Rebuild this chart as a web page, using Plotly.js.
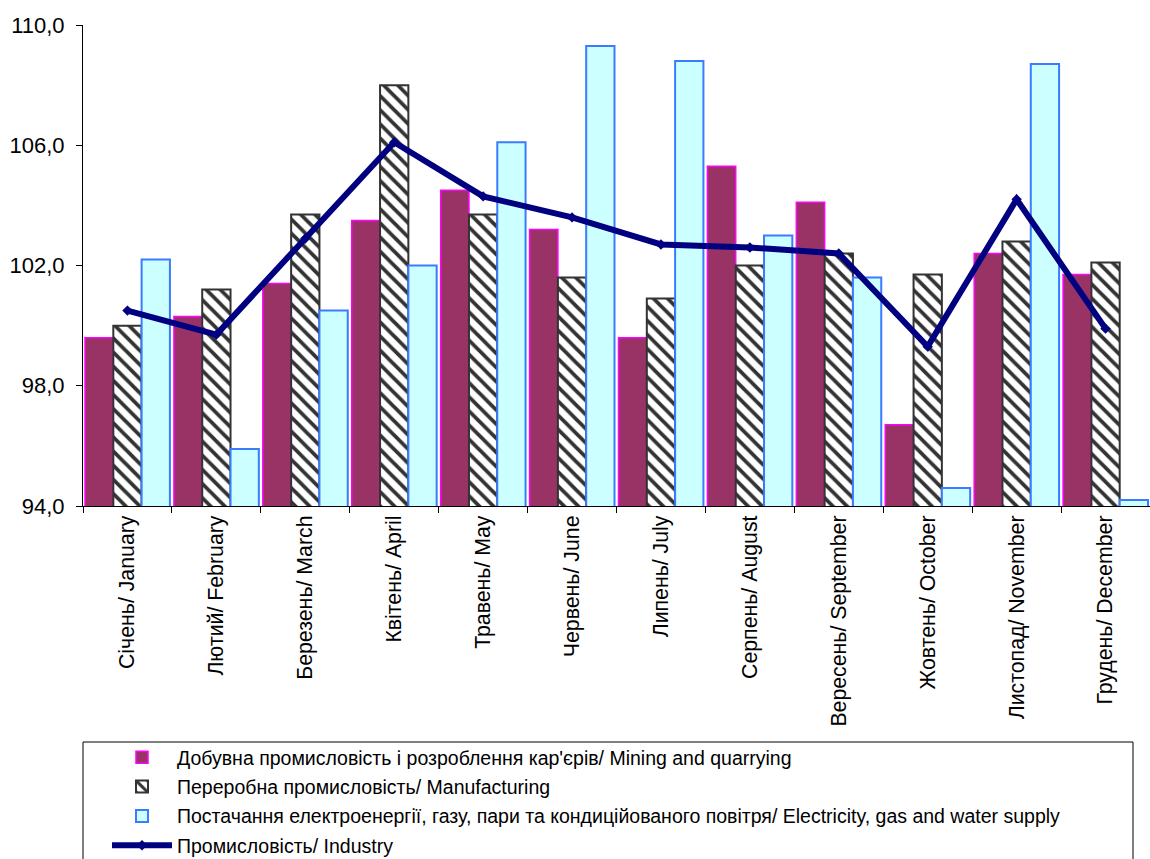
<!DOCTYPE html>
<html>
<head>
<meta charset="utf-8">
<script src="https://cdn.plot.ly/plotly-3.0.1.min.js"></script>
<style>html,body{margin:0;padding:0;background:#fff;}#chart{width:1150px;height:859px;}</style>
</head>
<body>
<div id="chart"></div>
<script>
const months = ["Січень/ January","Лютий/ February","Березень/ March","Квітень/ April","Травень/ May","Червень/ June","Липень/ July","Серпень/ August","Вересень/ September","Жовтень/ October","Листопад/ November","Грудень/ December"];
const mining = [99.6,100.3,101.4,103.5,104.5,103.2,99.6,105.3,104.1,96.7,102.4,101.7];
const manufacturing = [100.0,101.2,103.7,108.0,103.7,101.6,100.9,102.0,102.4,101.7,102.8,102.1];
const electricity = [102.2,95.9,100.5,102.0,106.1,109.3,108.8,103.0,101.6,94.6,108.7,94.2];
const industry = [100.5,99.7,102.9,106.1,104.3,103.6,102.7,102.6,102.4,99.3,104.2,99.9];
const names = ["Добувна промисловість і розроблення кар'єрів/ Mining and quarrying","Переробна промисловість/ Manufacturing","Постачання електроенергії, газу, пари та кондиційованого повітря/ Electricity, gas and water supply","Промисловість/ Industry"];
const yTicks = [94,98,102,106,110];

const FONT = "Arial, 'Liberation Sans', sans-serif";
const traces = [
  {type:'bar', x:months, y:mining, name:names[0], legendgroup:'a',
   marker:{color:'#993366', line:{color:'#FF00FF', width:1.5}}},
  {type:'bar', x:months, y:manufacturing, name:names[1], legendgroup:'b',
   marker:{color:'#ffffff', line:{color:'#333333', width:2},
     pattern:{shape:'\\', fgcolor:'#333333', bgcolor:'#ffffff', size:10, solidity:0.38}}},
  {type:'bar', x:months, y:electricity, name:names[2], legendgroup:'c',
   marker:{color:'#CCFFFF', line:{color:'#3A7BFF', width:2}}},
  {type:'scatter', mode:'lines+markers', x:months, y:industry, name:names[3], legendgroup:'d',
   line:{color:'#000080', width:6}, marker:{symbol:'diamond', size:8, color:'#000080'}}
];

const layout = {
  width:1150, height:859,
  margin:{l:83, r:0, t:25, b:353, autoexpand:false},
  paper_bgcolor:'#ffffff', plot_bgcolor:'#ffffff',
  separators:', ',
  font:{family:FONT, color:'#000000', size:20},
  bargap:0.045, bargroupgap:0,
  showlegend:true,
  legend:{orientation:'v', xref:'container', yref:'container', x:107/1150, y:1-738/859,
    xanchor:'left', yanchor:'top', font:{family:FONT, size:19.5, color:'#000'},
    bgcolor:'rgba(0,0,0,0)', borderwidth:0, tracegroupgap:1, traceorder:'grouped', itemwidth:60},
  xaxis:{type:'category', range:[-0.5,11.5], showline:true, linecolor:'#000', linewidth:1,
    ticks:'outside', ticklen:6, tickcolor:'#000', tickson:'boundaries', tickangle:-90,
    tickfont:{family:FONT, size:21.3}, showgrid:false, zeroline:false, fixedrange:true},
  yaxis:{range:[94,110], tickvals:yTicks, ticktext:yTicks.map(v=>v.toFixed(1).replace('.',',')),
    showline:true, linecolor:'#000', linewidth:1, ticks:'outside', ticklen:6, tickcolor:'#000',
    ticklabelstandoff:7,
    tickfont:{family:FONT, size:22}, showgrid:false, zeroline:false, fixedrange:true},
  shapes:[{type:'rect', xref:'paper', yref:'paper', x0:0, x1:(1133-83)/1067, y0:(506-862)/481, y1:(506-742)/481,
    line:{color:'#000', width:1}, fillcolor:'rgba(0,0,0,0)', layer:'above'}]
};
Plotly.newPlot('chart', traces, layout, {displayModeBar:false, staticPlot:true});
</script>
</body>
</html>
